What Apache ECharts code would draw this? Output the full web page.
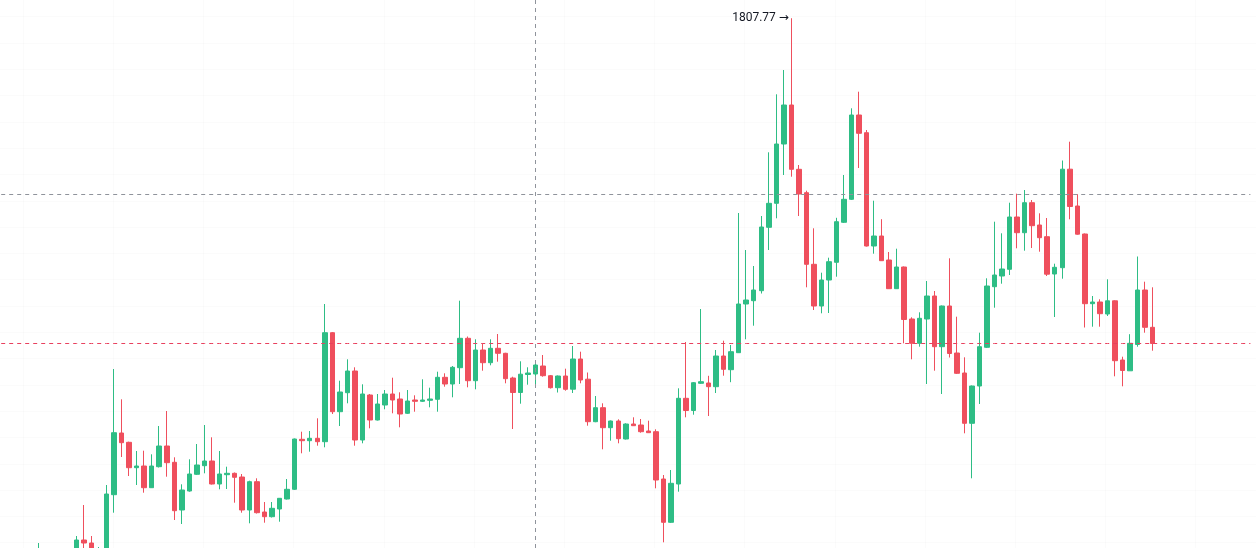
<!DOCTYPE html>
<html>
<head>
<meta charset="utf-8">
<title>Candles</title>
<script src="https://cdn.jsdelivr.net/npm/echarts@6/dist/echarts.min.js"></script>
<style>
  html, body { margin: 0; padding: 0; background: #fff; }
  #chart { width: 1256px; height: 548px; }
</style>
</head>
<body>
<div id="chart"></div>
<script>
// OHLC, one entry per bar, oldest first
const opens = [
  1261, 1272, 1260, 1268, 1263, 1270, 1286, 1283, 1270, 1274,
  1331.3, 1393, 1383.7, 1358.3, 1360, 1338.3, 1359.3, 1380, 1363.7, 1316,
  1335, 1351.7, 1360.3, 1365, 1342, 1351.3, 1352.7, 1349, 1316, 1344.3,
  1314, 1309.3, 1317, 1327, 1336.7, 1386.7, 1385.3, 1387.7, 1384.3, 1493.3,
  1414.3, 1433.3, 1455, 1386, 1431, 1406, 1421, 1432, 1427, 1412.7,
  1426, 1424.7, 1425.7, 1426.7, 1448.7, 1442, 1458.3, 1487.7, 1445.3, 1476,
  1463.3, 1477.7, 1472.7, 1448, 1433.5, 1451.5, 1452, 1460, 1450.3, 1438.3,
  1450, 1436.8, 1467, 1446.8, 1404.3, 1418.3, 1398.3, 1405, 1387, 1402,
  1401, 1395, 1394.3, 1347, 1303.7, 1342, 1427.7, 1415.5, 1442.7, 1443,
  1439.3, 1470, 1456.3, 1473.3, 1522, 1525.3, 1535.3, 1598.7, 1622.7, 1682,
  1721, 1656.7, 1633.3, 1561.7, 1520, 1546, 1563.7, 1603.7, 1626.7, 1711,
  1693.3, 1580, 1590, 1566, 1537.3, 1559, 1507, 1482.7, 1507, 1530,
  1479.3, 1520, 1473, 1453, 1402.7, 1440, 1478.7, 1539.3, 1550, 1556.7,
  1609, 1593.3, 1623.3, 1601, 1589.3, 1552, 1558.3, 1656.8, 1620, 1592,
  1522.3, 1524, 1512, 1525.2, 1466, 1455.2, 1481.5, 1536, 1498.7
];
const closes = [
  1276, 1262, 1270, 1264, 1272, 1286, 1283, 1272, 1276, 1332,
  1393.3, 1383.3, 1358.3, 1360, 1338.3, 1360, 1380, 1363.3, 1315.3, 1336,
  1352, 1361, 1365, 1342, 1352, 1352.7, 1348.7, 1316, 1344.3, 1313.3,
  1309.3, 1317.7, 1327.7, 1336.7, 1387, 1385.3, 1387.7, 1384.3, 1493.3, 1414.3,
  1434, 1455, 1386, 1432, 1406, 1422, 1432, 1426, 1412, 1425,
  1424.7, 1426, 1427, 1448.7, 1442, 1458.7, 1487.7, 1445.3, 1476, 1463.3,
  1477.7, 1472.7, 1447.3, 1433.5, 1451.8, 1453, 1461, 1450.3, 1438.3, 1450,
  1436.7, 1467, 1446, 1404.3, 1418.3, 1398.3, 1405, 1387.3, 1402, 1400.3,
  1394.3, 1393.3, 1346, 1303.7, 1342.7, 1427.7, 1415.5, 1443.3, 1444.3, 1439.3,
  1470, 1456.7, 1474.3, 1522, 1526, 1536, 1599, 1622.7, 1682, 1721,
  1656.7, 1632, 1561.7, 1520, 1546, 1564.3, 1604.3, 1626.7, 1711, 1692.7,
  1580, 1590, 1565.3, 1537.3, 1559, 1506.5, 1482.7, 1507.7, 1530, 1479.3,
  1520, 1472.5, 1452.7, 1402.7, 1440, 1479.3, 1540, 1551, 1557, 1609,
  1593.3, 1623.3, 1600.3, 1588.3, 1551.8, 1558.7, 1656.8, 1619.5, 1591.8, 1522.3,
  1524, 1512.3, 1525.2, 1465.3, 1455.5, 1482.7, 1536, 1498.7, 1482.5
];
const lows = [
  1251, 1255, 1254, 1258, 1257, 1264, 1274, 1266, 1262, 1268,
  1313.3, 1369, 1350, 1341, 1333.3, 1338, 1358.5, 1349.3, 1306, 1302,
  1334.3, 1351, 1352.7, 1341.5, 1336.7, 1337, 1323.3, 1313.3, 1302.7, 1312.5,
  1303.3, 1308.5, 1304.3, 1326.5, 1336, 1372.7, 1374.3, 1380.3, 1378.7, 1412,
  1400, 1422.7, 1380.3, 1382.7, 1397.7, 1405.5, 1416.7, 1412.7, 1398.7, 1412,
  1414.3, 1424, 1418.7, 1414.3, 1439.3, 1428.7, 1442, 1438.7, 1436.7, 1455.3,
  1460.7, 1464.3, 1442.7, 1397, 1422.3, 1441.3, 1440, 1449.3, 1437.5, 1433.5,
  1435.3, 1433, 1442.7, 1400.3, 1403.8, 1376.7, 1385.3, 1382.7, 1386.5, 1400,
  1393.3, 1393, 1337.7, 1283.7, 1303, 1334.3, 1408.7, 1411.3, 1442, 1410,
  1433, 1450.3, 1443.8, 1473, 1486.7, 1500.3, 1532.5, 1576, 1607.7, 1651,
  1649.3, 1610, 1538.7, 1516, 1512.7, 1513, 1549.3, 1603, 1626, 1658,
  1579.5, 1572.3, 1565, 1537, 1537, 1482.7, 1466.7, 1479.3, 1442, 1455.3,
  1432, 1468.5, 1452, 1392.7, 1347.7, 1422, 1478, 1518.3, 1542.3, 1551,
  1577.7, 1575.3, 1578, 1574.3, 1550, 1509, 1547.3, 1606.7, 1591.3, 1498.5,
  1499.3, 1499.3, 1510, 1449.7, 1439.7, 1455, 1479.3, 1493.3, 1475.3
];
const highs = [
  1283, 1275, 1276, 1274, 1277, 1290, 1321, 1290, 1279, 1341,
  1457, 1426.7, 1384.3, 1375, 1375.3, 1371.7, 1400, 1415, 1368.7, 1341.7,
  1366.7, 1382, 1401, 1388.7, 1375, 1359.3, 1353.5, 1352, 1345.3, 1347.7,
  1324, 1324, 1328, 1347, 1387.5, 1394.3, 1395, 1407.7, 1522, 1494,
  1445.3, 1466.7, 1458.7, 1441.7, 1432, 1432, 1436, 1448.3, 1433.7, 1436,
  1430.7, 1446.7, 1438.3, 1454.3, 1452.7, 1460, 1525.3, 1489.5, 1486.7, 1482.7,
  1486.7, 1492, 1473.2, 1449.3, 1464.7, 1458.7, 1464, 1471, 1451, 1450.5,
  1457.3, 1480, 1474.3, 1453.5, 1430, 1422.7, 1405.5, 1406.7, 1402.7, 1408.7,
  1407, 1405.3, 1396.7, 1351, 1356, 1437.7, 1484, 1444, 1517, 1450.2,
  1476, 1485.3, 1481, 1613, 1576, 1560, 1610, 1673.7, 1731.7, 1756,
  1807.77, 1661, 1635.3, 1597.7, 1553.3, 1568.3, 1608.2, 1651, 1717.7, 1734.3,
  1696, 1625.3, 1606.8, 1574, 1577.3, 1559.5, 1508.7, 1513.7, 1545, 1535,
  1520.5, 1567.7, 1509.3, 1468.7, 1440.5, 1493.3, 1547.7, 1604.3, 1592.7, 1623.3,
  1632.3, 1636, 1626, 1612.7, 1608, 1562.3, 1665.5, 1684.3, 1631.8, 1592.5,
  1530, 1526.7, 1546.7, 1525.7, 1469.3, 1491.8, 1569.5, 1544.3, 1538.7
];

const LEAD = 5;            // empty slots before the first bar
const TRAIL = 13;          // empty slots after the last bar (right margin)
const crossIdx = 66;       // bar under the crosshair
const crossPrice = 1631.5; // crosshair price level

const categories = [];
for (let i = 0; i < LEAD + opens.length + TRAIL; i++) categories.push('b' + i);

const candles = opens.map((o, i) => [i + LEAD, o, closes[i], lows[i], highs[i]]);

const maxHigh = Math.max(...highs);
const maxIdx = highs.indexOf(maxHigh);
const lastClose = closes[closes.length - 1];

const UP = '#2ebd85';
const DOWN = '#ef4f5d';
const GRIDLINE = 'rgba(42,46,57,0.02)';

const hiddenValueAxis = (grid, max) => ({
  gridIndex: grid, type: 'value', min: 0, max: max, interval: 1,
  axisLine: { show: false }, axisTick: { show: false }, axisLabel: { show: false },
  splitLine: { show: true, lineStyle: { color: GRIDLINE, width: 1 } }
});

const chart = echarts.init(document.getElementById('chart'));

chart.setOption({
  animation: false,
  backgroundColor: '#ffffff',
  grid: [
    { left: 1.2, right: 5.6, top: 0, bottom: 0 },
    // faint background grid: verticals every 12 bars, horizontals every ~26px
    { left: 23, width: 90.2 * 13, top: 0, bottom: 0 },
    { left: 0, right: 0, top: 16.7, height: 26.3 * 20 }
  ],
  xAxis: [
    {
      type: 'category',
      data: categories,
      boundaryGap: false,
      show: false
    },
    hiddenValueAxis(1, 13),
    Object.assign(hiddenValueAxis(2, 1), { splitLine: { show: false } })
  ],
  yAxis: [
    {
      type: 'value',
      min: 1278,
      max: 1826,
      show: false,
      splitLine: { show: false }
    },
    Object.assign(hiddenValueAxis(1, 1), { splitLine: { show: false } }),
    hiddenValueAxis(2, 20)
  ],
  series: [
    {
      type: 'candlestick',
      dimensions: ['idx', 'open', 'close', 'lowest', 'highest'],
      encode: { x: 0, y: [1, 2, 3, 4] },
      data: candles,
      barWidth: 5,
      clip: true,
      itemStyle: {
        color: UP,
        color0: DOWN,
        borderColor: UP,
        borderColor0: DOWN,
        borderWidth: 1
      },
      markLine: {
        silent: true,
        symbol: ['none', 'none'],
        label: { show: false },
        lineStyle: { color: '#8f939b', type: [4, 4], width: 1 },
        data: [
          { xAxis: categories[crossIdx + LEAD] },
          { yAxis: crossPrice }
        ]
      },
      markPoint: {
        silent: true,
        symbol: 'circle',
        symbolSize: 1,
        itemStyle: { color: 'rgba(0,0,0,0)' },
        label: {
          show: true,
          position: 'left',
          distance: 2,
          color: '#131722',
          fontFamily: 'Roboto, "DejaVu Sans", sans-serif',
          fontSize: 12,
          formatter: (p) => p.value.toFixed(2) + ' \u2192'
        },
        data: [
          { coord: [maxIdx + LEAD, maxHigh], value: maxHigh }
        ]
      }
    },
    {
      // last price line, drawn through the category axis at the last close
      type: 'line',
      data: categories.map(() => lastClose),
      silent: true,
      symbol: 'none',
      color: '#e8405e',
      lineStyle: { color: '#e8405e', type: [4, 4], width: 1 }
    }
  ]
});
</script>
</body>
</html>
